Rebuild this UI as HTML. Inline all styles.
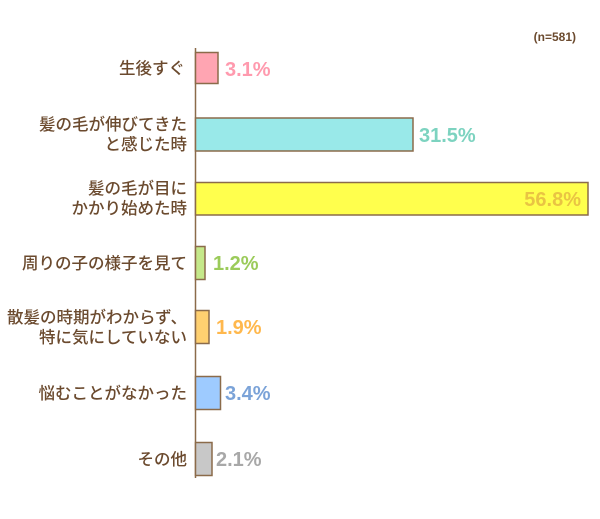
<!DOCTYPE html>
<html><head><meta charset="utf-8"><style>
html,body{margin:0;padding:0;background:#fff;}
svg{display:block;}
.l{font-family:"Liberation Sans","Noto Sans CJK JP",sans-serif;font-size:16.5px;font-weight:500;fill:#6B4A2E;text-anchor:end;}
.v{font-family:"Liberation Sans",sans-serif;font-size:20px;font-weight:bold;}
</style></head><body>
<svg width="600" height="519" viewBox="0 0 600 519" xmlns="http://www.w3.org/2000/svg">
<rect width="600" height="519" fill="#fff"/>
<text x="576" y="41" font-family="Liberation Sans,sans-serif" font-size="12" font-weight="bold" fill="#6B4A2E" text-anchor="end">(n=581)</text>
<line x1="195.5" y1="48" x2="195.5" y2="478" stroke="#8B6B4A" stroke-width="1.5"/>
<g stroke="#8B6B4A" stroke-width="1.5">
<rect x="195.5" y="52.5" width="22.5" height="31" fill="#FFA5B2"/>
<rect x="195.5" y="118" width="217.5" height="33" fill="#99E9E9"/>
<rect x="195.5" y="182.5" width="392.5" height="32.5" fill="#FFFF4D"/>
<rect x="195.5" y="246.5" width="9.5" height="33" fill="#C5E88A"/>
<rect x="195.5" y="310.5" width="13.5" height="33" fill="#FFD070"/>
<rect x="195.5" y="376.5" width="25" height="33" fill="#9ECBFF"/>
<rect x="195.5" y="442.5" width="16.5" height="33" fill="#C8C8C8"/>
</g>
<text class="l" x="185" y="74">生後すぐ</text>
<text class="l" x="187" y="130">髪の毛が伸びてきた</text>
<text class="l" x="187" y="150">と感じた時</text>
<text class="l" x="187" y="194">髪の毛が目に</text>
<text class="l" x="187" y="214">かかり始めた時</text>
<text class="l" x="187" y="269">周りの子の様子を見て</text>
<text class="l" x="187" y="323">散髪の時期がわからず、</text>
<text class="l" x="187" y="343">特に気にしていない</text>
<text class="l" x="187" y="399">悩むことがなかった</text>
<text class="l" x="187" y="465">その他</text>
<text class="v" x="225" y="76" fill="#FF9AAE">3.1%</text>
<text class="v" x="419" y="142" fill="#7DD3C0">31.5%</text>
<text class="v" x="581" y="206" fill="#E9C443" text-anchor="end">56.8%</text>
<text class="v" x="213" y="270" fill="#9BCB5A">1.2%</text>
<text class="v" x="216" y="334" fill="#FFB84D">1.9%</text>
<text class="v" x="225" y="400" fill="#7BA3D8">3.4%</text>
<text class="v" x="216" y="466" fill="#A8A8A8">2.1%</text>
</svg>
</body></html>
